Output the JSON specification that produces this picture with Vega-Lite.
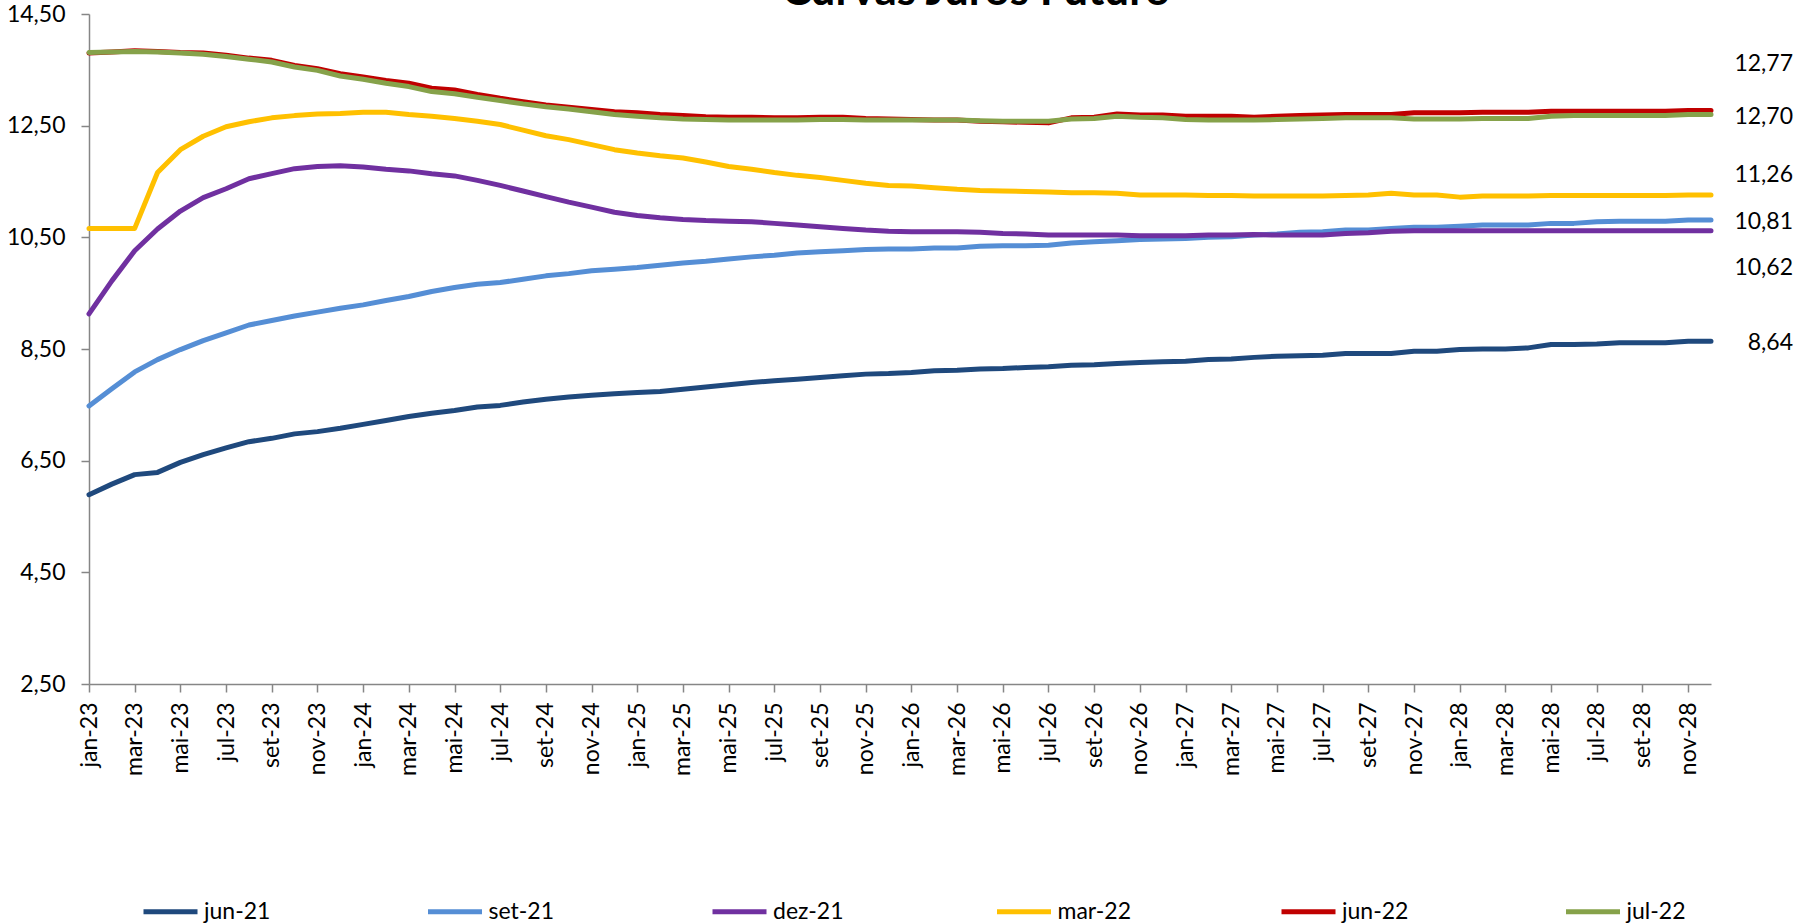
{
  "$schema": "https://vega.github.io/schema/vega-lite/v6.json",
  "autosize": {"type": "none"},
  "padding": {"left": 89, "top": 14, "right": 86, "bottom": 239},
  "width": 1622,
  "height": 670,
  "background": "white",
  "title": {"text": "Curvas Juros Futuro", "fontSize": 44, "fontWeight": "bold", "font": "Lato", "color": "black", "anchor": "middle", "frame": "group", "dx": 76, "offset": -46, "baseline": "alphabetic"},
  "config": {"font": "Lato", "view": {"stroke": null}},
  "datasets": {
    "curvas": [
      {"mes":"jan-23","jun-21":5.89,"set-21":7.48,"dez-21":9.13,"mar-22":10.66,"jun-22":13.80,"jul-22":13.81},
      {"mes":"fev-23","jun-21":6.08,"set-21":7.79,"dez-21":9.72,"mar-22":10.66,"jun-22":13.82,"jul-22":13.82},
      {"mes":"mar-23","jun-21":6.25,"set-21":8.09,"dez-21":10.26,"mar-22":10.66,"jun-22":13.84,"jul-22":13.83},
      {"mes":"abr-23","jun-21":6.29,"set-21":8.31,"dez-21":10.65,"mar-22":11.66,"jun-22":13.83,"jul-22":13.82},
      {"mes":"mai-23","jun-21":6.47,"set-21":8.49,"dez-21":10.97,"mar-22":12.07,"jun-22":13.81,"jul-22":13.80},
      {"mes":"jun-23","jun-21":6.61,"set-21":8.65,"dez-21":11.21,"mar-22":12.31,"jun-22":13.80,"jul-22":13.78},
      {"mes":"jul-23","jun-21":6.73,"set-21":8.79,"dez-21":11.37,"mar-22":12.48,"jun-22":13.76,"jul-22":13.74},
      {"mes":"ago-23","jun-21":6.84,"set-21":8.93,"dez-21":11.55,"mar-22":12.57,"jun-22":13.71,"jul-22":13.69},
      {"mes":"set-23","jun-21":6.90,"set-21":9.01,"dez-21":11.64,"mar-22":12.64,"jun-22":13.67,"jul-22":13.64},
      {"mes":"out-23","jun-21":6.98,"set-21":9.09,"dez-21":11.73,"mar-22":12.68,"jun-22":13.58,"jul-22":13.55},
      {"mes":"nov-23","jun-21":7.02,"set-21":9.16,"dez-21":11.77,"mar-22":12.71,"jun-22":13.52,"jul-22":13.49},
      {"mes":"dez-23","jun-21":7.08,"set-21":9.23,"dez-21":11.78,"mar-22":12.72,"jun-22":13.43,"jul-22":13.39},
      {"mes":"jan-24","jun-21":7.15,"set-21":9.29,"dez-21":11.76,"mar-22":12.74,"jun-22":13.37,"jul-22":13.33},
      {"mes":"fev-24","jun-21":7.22,"set-21":9.37,"dez-21":11.72,"mar-22":12.74,"jun-22":13.31,"jul-22":13.26},
      {"mes":"mar-24","jun-21":7.29,"set-21":9.44,"dez-21":11.69,"mar-22":12.70,"jun-22":13.26,"jul-22":13.20},
      {"mes":"abr-24","jun-21":7.35,"set-21":9.53,"dez-21":11.64,"mar-22":12.67,"jun-22":13.17,"jul-22":13.11},
      {"mes":"mai-24","jun-21":7.40,"set-21":9.60,"dez-21":11.60,"mar-22":12.63,"jun-22":13.14,"jul-22":13.07},
      {"mes":"jun-24","jun-21":7.46,"set-21":9.66,"dez-21":11.52,"mar-22":12.58,"jun-22":13.06,"jul-22":13.01},
      {"mes":"jul-24","jun-21":7.49,"set-21":9.69,"dez-21":11.43,"mar-22":12.52,"jun-22":12.99,"jul-22":12.95},
      {"mes":"ago-24","jun-21":7.55,"set-21":9.75,"dez-21":11.33,"mar-22":12.42,"jun-22":12.93,"jul-22":12.89},
      {"mes":"set-24","jun-21":7.60,"set-21":9.81,"dez-21":11.23,"mar-22":12.32,"jun-22":12.87,"jul-22":12.84},
      {"mes":"out-24","jun-21":7.64,"set-21":9.85,"dez-21":11.13,"mar-22":12.25,"jun-22":12.83,"jul-22":12.80},
      {"mes":"nov-24","jun-21":7.67,"set-21":9.90,"dez-21":11.04,"mar-22":12.16,"jun-22":12.79,"jul-22":12.75},
      {"mes":"dez-24","jun-21":7.70,"set-21":9.93,"dez-21":10.95,"mar-22":12.07,"jun-22":12.75,"jul-22":12.70},
      {"mes":"jan-25","jun-21":7.72,"set-21":9.96,"dez-21":10.89,"mar-22":12.01,"jun-22":12.73,"jul-22":12.67},
      {"mes":"fev-25","jun-21":7.74,"set-21":10.00,"dez-21":10.85,"mar-22":11.96,"jun-22":12.70,"jul-22":12.64},
      {"mes":"mar-25","jun-21":7.78,"set-21":10.04,"dez-21":10.82,"mar-22":11.92,"jun-22":12.68,"jul-22":12.62},
      {"mes":"abr-25","jun-21":7.82,"set-21":10.07,"dez-21":10.80,"mar-22":11.85,"jun-22":12.66,"jul-22":12.61},
      {"mes":"mai-25","jun-21":7.86,"set-21":10.11,"dez-21":10.79,"mar-22":11.77,"jun-22":12.65,"jul-22":12.60},
      {"mes":"jun-25","jun-21":7.90,"set-21":10.15,"dez-21":10.78,"mar-22":11.72,"jun-22":12.65,"jul-22":12.60},
      {"mes":"jul-25","jun-21":7.93,"set-21":10.18,"dez-21":10.75,"mar-22":11.66,"jun-22":12.64,"jul-22":12.60},
      {"mes":"ago-25","jun-21":7.96,"set-21":10.22,"dez-21":10.72,"mar-22":11.61,"jun-22":12.64,"jul-22":12.60},
      {"mes":"set-25","jun-21":7.99,"set-21":10.24,"dez-21":10.69,"mar-22":11.57,"jun-22":12.65,"jul-22":12.61},
      {"mes":"out-25","jun-21":8.02,"set-21":10.26,"dez-21":10.66,"mar-22":11.52,"jun-22":12.65,"jul-22":12.61},
      {"mes":"nov-25","jun-21":8.05,"set-21":10.28,"dez-21":10.63,"mar-22":11.47,"jun-22":12.63,"jul-22":12.60},
      {"mes":"dez-25","jun-21":8.06,"set-21":10.29,"dez-21":10.61,"mar-22":11.43,"jun-22":12.62,"jul-22":12.60},
      {"mes":"jan-26","jun-21":8.08,"set-21":10.29,"dez-21":10.60,"mar-22":11.42,"jun-22":12.61,"jul-22":12.60},
      {"mes":"fev-26","jun-21":8.11,"set-21":10.31,"dez-21":10.60,"mar-22":11.39,"jun-22":12.60,"jul-22":12.60},
      {"mes":"mar-26","jun-21":8.12,"set-21":10.31,"dez-21":10.60,"mar-22":11.36,"jun-22":12.60,"jul-22":12.60},
      {"mes":"abr-26","jun-21":8.14,"set-21":10.34,"dez-21":10.59,"mar-22":11.34,"jun-22":12.58,"jul-22":12.59},
      {"mes":"mai-26","jun-21":8.15,"set-21":10.35,"dez-21":10.57,"mar-22":11.33,"jun-22":12.57,"jul-22":12.58},
      {"mes":"jun-26","jun-21":8.17,"set-21":10.35,"dez-21":10.56,"mar-22":11.32,"jun-22":12.56,"jul-22":12.58},
      {"mes":"jul-26","jun-21":8.18,"set-21":10.36,"dez-21":10.54,"mar-22":11.31,"jun-22":12.55,"jul-22":12.58},
      {"mes":"ago-26","jun-21":8.21,"set-21":10.40,"dez-21":10.54,"mar-22":11.30,"jun-22":12.64,"jul-22":12.62},
      {"mes":"set-26","jun-21":8.22,"set-21":10.42,"dez-21":10.54,"mar-22":11.30,"jun-22":12.65,"jul-22":12.63},
      {"mes":"out-26","jun-21":8.24,"set-21":10.44,"dez-21":10.54,"mar-22":11.29,"jun-22":12.71,"jul-22":12.67},
      {"mes":"nov-26","jun-21":8.26,"set-21":10.46,"dez-21":10.53,"mar-22":11.26,"jun-22":12.69,"jul-22":12.65},
      {"mes":"dez-26","jun-21":8.27,"set-21":10.47,"dez-21":10.53,"mar-22":11.26,"jun-22":12.69,"jul-22":12.64},
      {"mes":"jan-27","jun-21":8.28,"set-21":10.48,"dez-21":10.53,"mar-22":11.26,"jun-22":12.67,"jul-22":12.61},
      {"mes":"fev-27","jun-21":8.31,"set-21":10.50,"dez-21":10.54,"mar-22":11.25,"jun-22":12.67,"jul-22":12.60},
      {"mes":"mar-27","jun-21":8.32,"set-21":10.51,"dez-21":10.54,"mar-22":11.25,"jun-22":12.67,"jul-22":12.60},
      {"mes":"abr-27","jun-21":8.35,"set-21":10.54,"dez-21":10.55,"mar-22":11.24,"jun-22":12.65,"jul-22":12.60},
      {"mes":"mai-27","jun-21":8.37,"set-21":10.56,"dez-21":10.54,"mar-22":11.24,"jun-22":12.67,"jul-22":12.61},
      {"mes":"jun-27","jun-21":8.38,"set-21":10.59,"dez-21":10.54,"mar-22":11.24,"jun-22":12.68,"jul-22":12.62},
      {"mes":"jul-27","jun-21":8.39,"set-21":10.60,"dez-21":10.54,"mar-22":11.24,"jun-22":12.69,"jul-22":12.63},
      {"mes":"ago-27","jun-21":8.42,"set-21":10.63,"dez-21":10.57,"mar-22":11.25,"jun-22":12.70,"jul-22":12.64},
      {"mes":"set-27","jun-21":8.42,"set-21":10.63,"dez-21":10.58,"mar-22":11.26,"jun-22":12.70,"jul-22":12.64},
      {"mes":"out-27","jun-21":8.42,"set-21":10.66,"dez-21":10.61,"mar-22":11.29,"jun-22":12.70,"jul-22":12.64},
      {"mes":"nov-27","jun-21":8.46,"set-21":10.68,"dez-21":10.62,"mar-22":11.26,"jun-22":12.73,"jul-22":12.62},
      {"mes":"dez-27","jun-21":8.46,"set-21":10.68,"dez-21":10.62,"mar-22":11.26,"jun-22":12.73,"jul-22":12.62},
      {"mes":"jan-28","jun-21":8.49,"set-21":10.70,"dez-21":10.62,"mar-22":11.22,"jun-22":12.73,"jul-22":12.62},
      {"mes":"fev-28","jun-21":8.50,"set-21":10.72,"dez-21":10.62,"mar-22":11.24,"jun-22":12.74,"jul-22":12.63},
      {"mes":"mar-28","jun-21":8.50,"set-21":10.72,"dez-21":10.62,"mar-22":11.24,"jun-22":12.74,"jul-22":12.63},
      {"mes":"abr-28","jun-21":8.52,"set-21":10.72,"dez-21":10.62,"mar-22":11.24,"jun-22":12.74,"jul-22":12.63},
      {"mes":"mai-28","jun-21":8.58,"set-21":10.75,"dez-21":10.62,"mar-22":11.25,"jun-22":12.76,"jul-22":12.67},
      {"mes":"jun-28","jun-21":8.58,"set-21":10.75,"dez-21":10.62,"mar-22":11.25,"jun-22":12.76,"jul-22":12.68},
      {"mes":"jul-28","jun-21":8.59,"set-21":10.78,"dez-21":10.62,"mar-22":11.25,"jun-22":12.76,"jul-22":12.68},
      {"mes":"ago-28","jun-21":8.61,"set-21":10.79,"dez-21":10.62,"mar-22":11.25,"jun-22":12.76,"jul-22":12.68},
      {"mes":"set-28","jun-21":8.61,"set-21":10.79,"dez-21":10.62,"mar-22":11.25,"jun-22":12.76,"jul-22":12.68},
      {"mes":"out-28","jun-21":8.61,"set-21":10.79,"dez-21":10.62,"mar-22":11.25,"jun-22":12.76,"jul-22":12.68},
      {"mes":"nov-28","jun-21":8.64,"set-21":10.81,"dez-21":10.62,"mar-22":11.26,"jun-22":12.77,"jul-22":12.70},
      {"mes":"dez-28","jun-21":8.64,"set-21":10.81,"dez-21":10.62,"mar-22":11.26,"jun-22":12.77,"jul-22":12.70}
    ],
    "rotulos": [
      {"mes":"dez-28","serie":"jun-22","taxa":12.77,"rotulo":"12,77"},
      {"mes":"dez-28","serie":"jul-22","taxa":12.70,"rotulo":"12,70"},
      {"mes":"dez-28","serie":"mar-22","taxa":11.26,"rotulo":"11,26"},
      {"mes":"dez-28","serie":"set-21","taxa":10.81,"rotulo":"10,81"},
      {"mes":"dez-28","serie":"dez-21","taxa":10.62,"rotulo":"10,62"},
      {"mes":"dez-28","serie":"jun-21","taxa":8.64,"rotulo":"8,64"}
    ]
  },
  "layer": [
    {
      "data": {"name": "curvas"},
      "transform": [{"fold": ["jun-21","set-21","dez-21","mar-22","jun-22","jul-22"], "as": ["serie","taxa"]}],
      "mark": {"type": "line", "strokeWidth": 5, "strokeCap": "round", "strokeJoin": "round"},
      "encoding": {
        "x": {"field": "mes", "type": "ordinal", "sort": null, "scale": {"type": "point", "padding": 0},
          "axis": {"title": null, "values": ["jan-23","mar-23","mai-23","jul-23","set-23","nov-23","jan-24","mar-24","mai-24","jul-24","set-24","nov-24","jan-25","mar-25","mai-25","jul-25","set-25","nov-25","jan-26","mar-26","mai-26","jul-26","set-26","nov-26","jan-27","mar-27","mai-27","jul-27","set-27","nov-27","jan-28","mar-28","mai-28","jul-28","set-28","nov-28"],
            "labelAngle": -90, "labelFontSize": 23, "labelColor": "black", "tickSize": 8, "labelPadding": 10, "domainColor": "#868686", "tickColor": "#868686", "domainWidth": 1.5, "tickWidth": 1.5, "grid": false}},
        "y": {"field": "taxa", "type": "quantitative", "scale": {"domain": [2.5, 14.5], "nice": false, "zero": false},
          "axis": {"title": null, "values": [2.5,4.5,6.5,8.5,10.5,12.5,14.5], "labelExpr": "replace(format(datum.value, '.2f'), '.', ',')", "labelFontSize": 23, "labelColor": "black", "tickSize": 8, "labelPadding": 16, "domainColor": "#868686", "tickColor": "#868686", "domainWidth": 1.5, "tickWidth": 1.5, "grid": false}},
        "color": {"field": "serie", "type": "nominal",
          "scale": {"domain": ["jun-21","set-21","dez-21","mar-22","jun-22","jul-22"], "range": ["#1F497D","#558ED5","#7030A0","#FFC000","#C00000","#86A24A"]},
          "legend": {"title": null, "orient": "none", "direction": "horizontal", "columns": 6, "gridAlign": "all", "legendX": 52, "legendY": 868, "symbolType": "stroke", "symbolSize": 2916, "symbolStrokeWidth": 5, "labelFontSize": 23, "labelColor": "black", "columnPadding": 139.5, "labelOffset": 4, "padding": 0}}
      }
    },
    {
      "data": {"name": "rotulos"},
      "transform": [{"filter": "datum.serie == 'jul-22' || datum.serie == 'set-21' || datum.serie == 'jun-21'"}],
      "mark": {"type": "text", "align": "right", "baseline": "middle", "dx": 82, "dy": 2, "fontSize": 23, "color": "black"},
      "encoding": {"x": {"field": "mes", "type": "ordinal", "sort": null}, "y": {"field": "taxa", "type": "quantitative"}, "text": {"field": "rotulo"}}
    },
    {
      "data": {"name": "rotulos"},
      "transform": [{"filter": "datum.serie == 'jun-22'"}],
      "mark": {"type": "text", "align": "right", "baseline": "middle", "dx": 82, "dy": -47, "fontSize": 23, "color": "black"},
      "encoding": {"x": {"field": "mes", "type": "ordinal", "sort": null}, "y": {"field": "taxa", "type": "quantitative"}, "text": {"field": "rotulo"}}
    },
    {
      "data": {"name": "rotulos"},
      "transform": [{"filter": "datum.serie == 'mar-22'"}],
      "mark": {"type": "text", "align": "right", "baseline": "middle", "dx": 82, "dy": -20, "fontSize": 23, "color": "black"},
      "encoding": {"x": {"field": "mes", "type": "ordinal", "sort": null}, "y": {"field": "taxa", "type": "quantitative"}, "text": {"field": "rotulo"}}
    },
    {
      "data": {"name": "rotulos"},
      "transform": [{"filter": "datum.serie == 'dez-21'"}],
      "mark": {"type": "text", "align": "right", "baseline": "middle", "dx": 82, "dy": 37, "fontSize": 23, "color": "black"},
      "encoding": {"x": {"field": "mes", "type": "ordinal", "sort": null}, "y": {"field": "taxa", "type": "quantitative"}, "text": {"field": "rotulo"}}
    }
  ]
}
